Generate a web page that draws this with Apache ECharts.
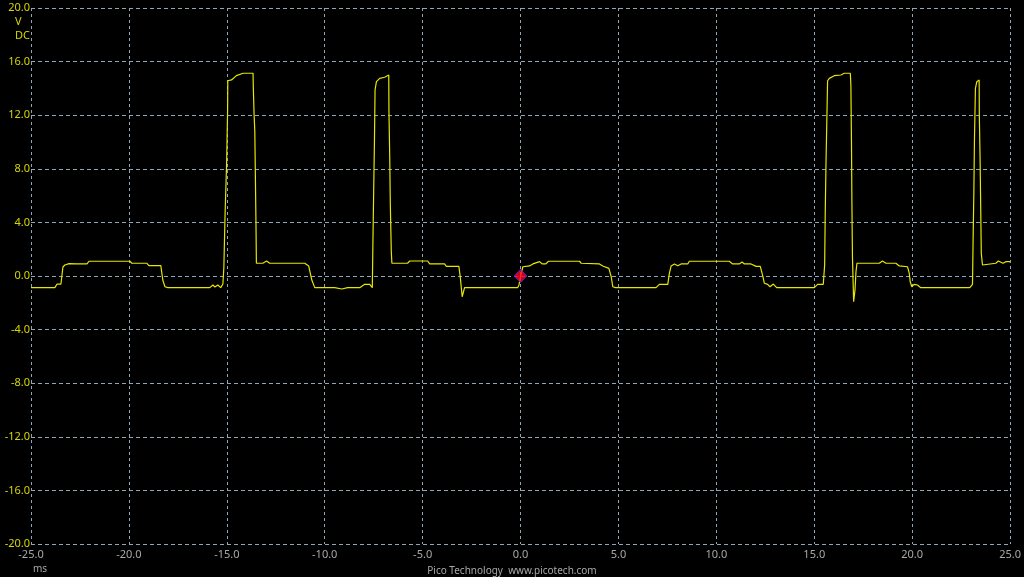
<!DOCTYPE html>
<html>
<head>
<meta charset="utf-8">
<style>
  html, body { margin: 0; padding: 0; background: #000; }
  #chart { width: 1024px; height: 577px; }
</style>
<script src="https://cdn.jsdelivr.net/npm/echarts@6/dist/echarts.min.js"></script>
</head>
<body>
<div id="chart"></div>
<script>
// Time (ms) of each sample point
const times = [
  -25.00, -23.78, -23.67, -23.47, -23.37, -23.27, -23.06, -22.96, -22.70, -22.14,
  -22.04, -19.95, -19.85, -19.08, -18.98, -18.37, -18.27, -18.16, -18.01, -15.87,
  -15.71, -15.61, -15.46, -15.31, -15.20, -15.15, -15.09, -15.01, -14.96, -14.95,
  -14.76, -14.51, -14.17, -13.66, -13.65, -13.61, -13.57, -13.54, -13.51, -13.49,
  -13.16, -12.97, -12.81, -11.02, -10.82, -10.66, -10.51, -9.49, -9.13, -8.83,
  -8.21, -7.96, -7.70, -7.57, -7.54, -7.50, -7.46, -7.43, -7.36, -7.19,
  -6.94, -6.73, -6.72, -6.68, -6.65, -6.60, -6.57, -5.77, -5.66, -4.74,
  -4.64, -3.88, -3.79, -3.15, -3.08, -2.98, -2.86, -0.15, -0.08, 0.00,
  0.12, 0.46, 0.63, 0.97, 1.11, 1.28, 1.43, 3.01, 3.10, 4.03,
  4.20, 4.51, 4.63, 4.71, 4.85, 6.92, 7.09, 7.52, 7.60, 7.69,
  7.86, 8.03, 8.20, 8.54, 8.62, 10.66, 10.83, 11.17, 11.31, 11.43,
  11.77, 12.03, 12.24, 12.36, 12.45, 12.62, 12.74, 12.91, 13.08, 15.00,
  15.17, 15.46, 15.53, 15.56, 15.60, 15.65, 15.68, 15.77, 16.02, 16.36,
  16.53, 16.84, 16.87, 16.90, 16.92, 16.95, 17.01, 17.08, 17.13, 17.18,
  18.32, 18.48, 18.66, 19.17, 19.34, 19.76, 19.85, 19.90, 19.98, 20.10,
  20.27, 20.44, 22.94, 23.08, 23.11, 23.15, 23.18, 23.23, 23.30, 23.42,
  23.43, 23.47, 23.50, 23.53, 23.59, 23.67, 24.27, 24.40, 24.64, 24.78,
  25.00
];
// Voltage (V) of each sample point
const volts = [
  -0.87, -0.87, -0.60, -0.60, 0.67, 0.82, 0.92, 0.82, 0.90, 0.90,
  1.10, 1.10, 0.95, 0.95, 0.77, 0.77, -0.30, -0.80, -0.87, -0.87,
  -0.67, -0.82, -0.67, -0.87, -0.60, 0.67, 4.55, 8.43, 12.39, 14.57,
  14.63, 14.95, 15.13, 15.13, 14.25, 12.16, 10.77, 7.31, 3.81, 0.95,
  0.95, 1.12, 0.95, 0.95, 0.75, -0.30, -0.87, -0.87, -0.97, -0.87,
  -0.87, -0.62, -0.62, -0.87, 2.46, 6.29, 10.15, 13.88, 14.50, 14.75,
  14.83, 15.00, 12.26, 8.81, 5.30, 1.81, 0.95, 0.95, 1.12, 1.12,
  0.90, 0.90, 0.72, 0.72, -0.05, -1.55, -0.87, -0.87, -0.67, 0.00,
  0.69, 0.75, 0.90, 1.07, 0.90, 0.90, 1.10, 1.10, 0.95, 0.90,
  0.75, 0.57, -0.05, -0.80, -0.87, -0.87, -0.62, -0.62, 0.20, 0.75,
  0.90, 0.77, 0.90, 0.90, 1.10, 1.10, 0.90, 0.90, 1.04, 0.90,
  0.90, 0.72, 0.72, 0.07, -0.54, -0.62, -0.80, -0.60, -0.87, -0.87,
  -0.62, -0.62, 0.82, 4.68, 8.53, 12.26, 14.57, 14.75, 14.95, 15.00,
  15.13, 15.13, 14.25, 10.02, 5.80, 1.44, -1.92, -1.04, 0.32, 0.95,
  0.95, 1.12, 0.95, 0.95, 0.75, 0.69, 0.22, -0.43, -0.80, -0.62,
  -0.67, -0.87, -0.87, -0.62, 2.56, 6.29, 10.15, 14.01, 14.50, 14.63,
  11.89, 8.53, 5.05, 1.69, 0.82, 0.95, 0.95, 1.12, 0.95, 1.07,
  1.07
];
// Trigger marker
const triggerPoint = [0, 0];
// Axis ranges / tick steps
const xRange = [-25, 25], xStep = 5;
const yRange = [-20, 20], yStep = 4;

const gridColor = '#8fa5b3';
const chart = echarts.init(document.getElementById('chart'), null, { renderer: 'canvas' });
chart.setOption({
  backgroundColor: '#000000',
  animation: false,
  grid: { left: 31, right: 13, top: 8, bottom: 33 },
  xAxis: {
    type: 'value', min: xRange[0], max: xRange[1], interval: xStep,
    axisLine: { show: false }, axisTick: { show: false },
    splitLine: { show: true, lineStyle: { color: gridColor, type: [3, 3], width: 1 } },
    axisLabel: { color: '#a8a8a8', fontFamily: 'Noto Sans', fontSize: 11, margin: 5,
      formatter: v => v.toFixed(1), showMinLabel: true, showMaxLabel: true }
  },
  yAxis: {
    type: 'value', min: yRange[0], max: yRange[1], interval: yStep,
    axisLine: { show: false }, axisTick: { show: false },
    splitLine: { show: true, lineStyle: { color: gridColor, type: [4, 3], width: 1 } },
    axisLabel: { color: '#d6d600', fontFamily: 'Noto Sans', fontSize: 11, margin: 1,
      formatter: v => v.toFixed(1), showMinLabel: true, showMaxLabel: true }
  },
  series: [
    {
      type: 'line',
      data: times.map((t, i) => [t, volts[i]]),
      showSymbol: false,
      lineStyle: { color: '#e6e600', width: 1.2 },
      itemStyle: { color: '#e6e600' },
      z: 3
    },
    {
      type: 'scatter',
      data: [triggerPoint],
      symbol: 'diamond',
      symbolSize: 13,
      itemStyle: { color: '#ff0020', borderColor: '#3030ff', borderWidth: 1 },
      z: 5
    }
  ],
  graphic: [
    { type: 'text', left: 15, top: 16, style: { text: 'V', fill: '#d6d600', font: '11px "Noto Sans"' } },
    { type: 'text', left: 15, top: 30, style: { text: 'DC', fill: '#d6d600', font: '11px "Noto Sans"' } },
    { type: 'text', left: 33, top: 564, style: { text: 'ms', fill: '#a8a8a8', font: '10px "Noto Sans"' } },
    { type: 'text', x: 512, y: 571, style: { text: 'Pico Technology  www.picotech.com', fill: '#a8a8a8',
      font: '10px "Noto Sans"', align: 'center', verticalAlign: 'middle' } }
  ]
});
</script>
</body>
</html>
